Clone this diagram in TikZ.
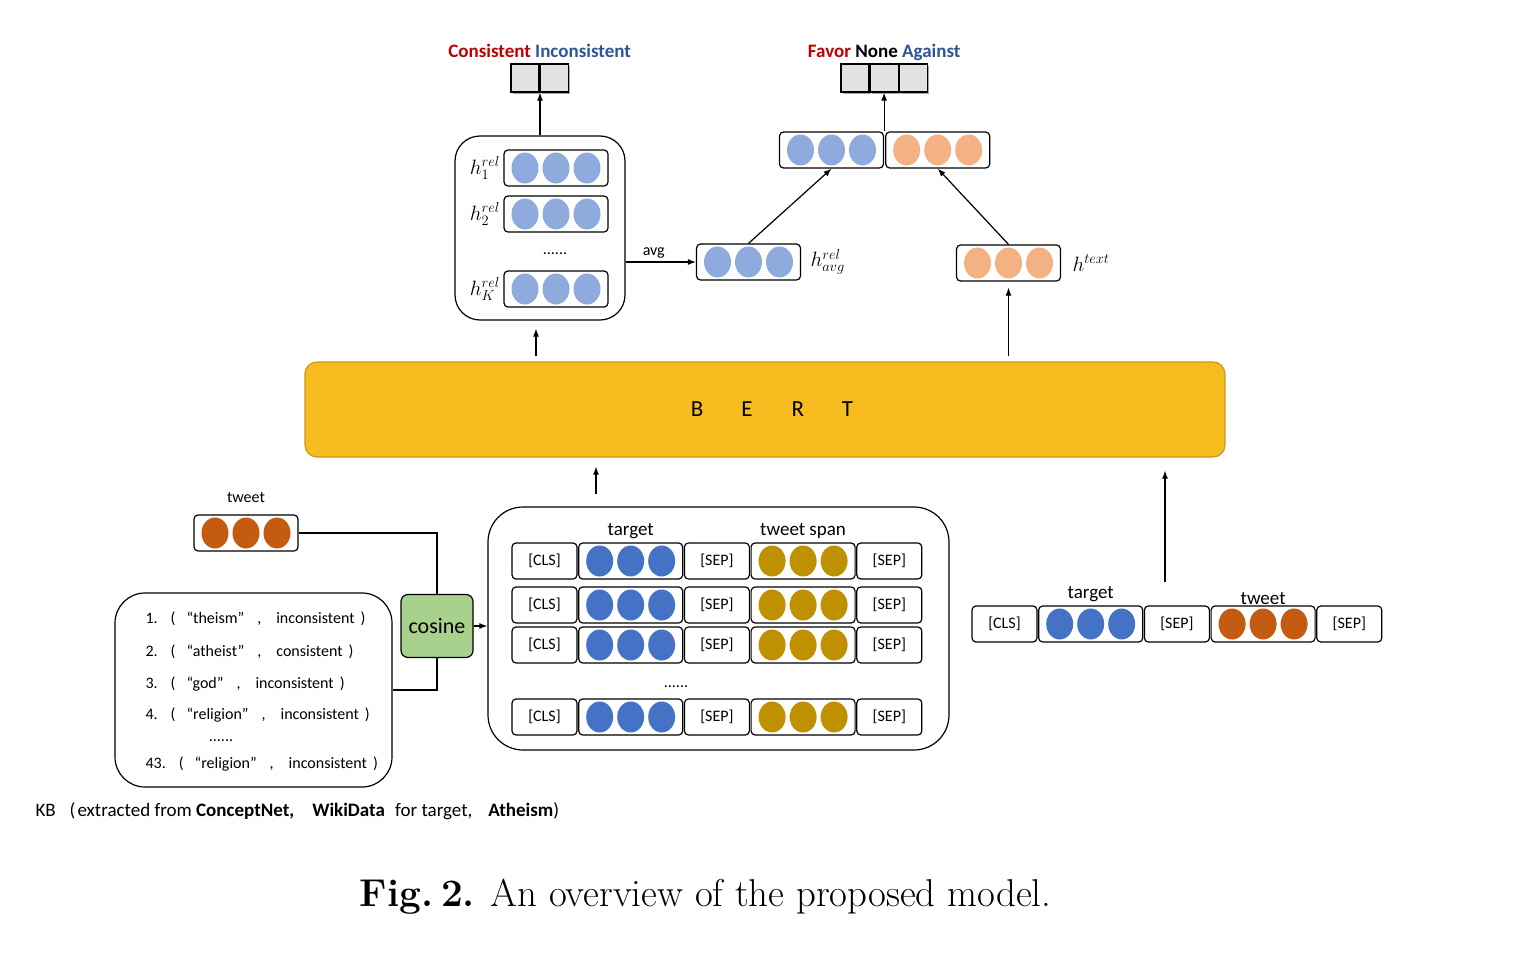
\documentclass[tikz,border=0pt]{standalone}
\usepackage{fontspec}
\newfontfamily\calib{Carlito}
\usepackage{tikz}
\usetikzlibrary{arrows.meta,positioning,calc,shapes.geometric,shadows}

\definecolor{lightblue}{HTML}{8FAADC}
\definecolor{peach}{HTML}{F4B183}
\definecolor{darkblue}{HTML}{4472C4}
\definecolor{gold}{HTML}{BF9000}
\definecolor{burnt}{HTML}{C55A11}
\definecolor{bertfill}{HTML}{F7BC1F}
\definecolor{bertline}{HTML}{C79A12}
\definecolor{cosgreen}{HTML}{A9D18E}
\definecolor{cellgrey}{HTML}{E2E2E2}
\definecolor{labred}{HTML}{C00000}
\definecolor{labblue}{HTML}{2F5597}

\newcommand{\fsz}[1]{\fontsize{#1}{#1}\selectfont}
% one knowledge line: number, word, relation
\newcommand{\kbline}[3]{#1\hspace{13pt}(\hspace{11pt}“#2”\hspace{13pt},\hspace{15pt}#3\hspace{6pt})}

\tikzset{
  vecbox/.style={
    draw,
    rounded corners=4pt,
    line width=1.2pt,
    minimum width=104pt,
    minimum height=36pt,
    inner sep=0pt
  },
  tokbox/.style={vecbox, minimum width=65pt, font=\calib\fsz{16}},
  dot/.style={ellipse, inner sep=0pt, minimum width=27pt, minimum height=31pt},
  outcell/.style={draw, line width=1.2pt, fill=cellgrey, minimum width=28pt, minimum height=28pt, inner sep=0pt,
    drop shadow={shadow xshift=2pt, shadow yshift=-2pt, fill=black, opacity=0.35}},
  groupbox/.style={draw, line width=1.2pt, inner sep=0pt},
  outlabel/.style={font=\calib\bfseries\fsz{19}, inner sep=0pt},
  veclabel/.style={font=\fsz{22}},
  flow/.style={-{Latex[length=8pt,width=6pt]}, line width=1.2pt},
  link/.style={line width=1.2pt}
}

% a vector of three dots: name, placement, colour
\newcommand{\vecrow}[3]{%
  \node[vecbox, #2] (#1) {};
  \foreach \k/\dx in {1/-31,2/0,3/31}
    \node[dot, fill=#3] (#1-\k) at ($(#1.center)+(\dx,0)$) {};
}

\begin{document}
\begin{tikzpicture}[
  x=1pt, y=-1pt,
  every node/.style={font=\calib\fsz{16}}
]
\useasboundingbox (0,0) rectangle (1517,958);

% relation branch
\node[groupbox, rounded corners=25pt, minimum width=170pt, minimum height=184pt] (relbox) at (540,228) {};
\vecrow{rel1}{at={(556,168)}}{lightblue}
\vecrow{rel2}{at={(556,214)}}{lightblue}
\vecrow{relK}{at={(556,289)}}{lightblue}
\node[veclabel, left=0pt of rel1] (hrel1) {$h^{rel}_1$};
\node[veclabel, left=0pt of rel2] (hrel2) {$h^{rel}_2$};
\node[veclabel, left=0pt of relK] (hrelK) {$h^{rel}_K$};
\node (reldots) at (555,254) {......};

\node[outcell] (cc1) at (525,78) {};
\node[outcell, right=0pt of cc1] (cc2) {};
\node[outlabel, anchor=base] (cclab) at ($(cc1.north east)+(0,-6)$) {\textcolor{labred}{Consistent} \textcolor{labblue}{Inconsistent}};
\draw[flow] (relbox.north) -- (relbox.north |- cc1.south);

\vecrow{avgvec}{at={(748.5,262)}}{lightblue}
\node[veclabel, right=6pt of avgvec] (havg) {$h^{rel}_{avg}$};
\draw[flow] (relbox.east |- avgvec.west) -- node[above, pos=0.4] (avglab) {avg} (avgvec.west);

% text branch
\vecrow{textvec}{at={(1008.5,263)}}{peach}
\node[veclabel, right=8pt of textvec] (htext) {$h^{text}$};

\vecrow{catL}{at={(831.5,150)}}{lightblue}
\vecrow{catR}{right=1pt of catL}{peach}
\draw[flow] (avgvec.north) -- (catL.south);
\draw[flow] (textvec.north) -- (catR.south);

\node[outcell] (sc1) at (855,78) {};
\node[outcell, right=0pt of sc1] (sc2) {};
\node[outcell, right=0pt of sc2] (sc3) {};
\node[outlabel, anchor=base] (sclab) at ($(sc2.north)+(0,-6)$) {\textcolor{labred}{Favor} None \textcolor{labblue}{Against}};
\draw[flow] (catL.north east) -- (catL.north east |- sc2.south);

% encoder
\node[draw=bertline, fill=bertfill, line width=1.2pt, rounded corners=12pt, minimum width=920pt, minimum height=95pt,
  font=\calib\fsz{23}] (bert) at (765,409.5) {\hspace{14pt}B\hspace{38pt}E\hspace{39pt}R\hspace{38pt}T};
\draw[flow] ($(bert.north -| relbox.south)+(-4,-5)$) -- ($(relbox.south)+(-4,8)$);
\draw[flow] ($(bert.north -| textvec.south)+(0,-5)$) -- ($(textvec.south)+(0,6)$);

% pair inputs
\node[groupbox, rounded corners=35pt, minimum width=461pt, minimum height=243pt] (midbox) at (718.5,628.5) {};
\foreach \row/\ypos in {1/561,2/605,3/645,4/717} {
  \node[tokbox, at={(544.5,\ypos)}] (cls\row) {[CLS]};
  \vecrow{tgt\row}{right=0.5pt of cls\row}{darkblue}
  \node[tokbox, right=0.5pt of tgt\row] (sepa\row) {[SEP]};
  \vecrow{span\row}{right=0.5pt of sepa\row}{gold}
  \node[tokbox, right=0.5pt of span\row] (sepb\row) {[SEP]};
}
\node[font=\calib\fsz{19}, above=0pt of tgt1] (tgtlab) {target};
\node[font=\calib\fsz{19}, above=0pt of span1] (spanlab) {tweet span};
\node (middots) at (676,687) {......};
\coordinate (pairup) at (596,494);
\draw[flow] (pairup) -- ($(pairup |- bert.south)+(0,9)$);

% tweet and knowledge base
\vecrow{tweetvec}{at={(246,533)}}{burnt}
\node[above=8pt of tweetvec] (tweetlab) {tweet};
\node[draw, line width=1.2pt, fill=cosgreen, rounded corners=7pt, minimum width=72pt, minimum height=63pt, inner sep=0pt,
  font=\calib\fsz{22}] (cosine) at (437,626) {cosine};
\node[groupbox, rounded corners=30pt, minimum width=277pt, minimum height=194pt] (kb) at (253.5,690) {};
\node[anchor=west] (kb1) at (142,619) {\kbline{1.}{theism}{inconsistent}};
\node[anchor=west] (kb2) at (142,652) {\kbline{2.}{atheist}{consistent}};
\node[anchor=west] (kb3) at (142,684) {\kbline{3.}{god}{inconsistent}};
\node[anchor=west] (kb4) at (142,715) {\kbline{4.}{religion}{inconsistent}};
\node (kbdots) at (221,741) {......};
\node[anchor=west] (kb43) at (142,764) {\kbline{43.}{religion}{inconsistent}};
\node[anchor=west, font=\calib\fsz{19}] (kbcap) at (32,811) {KB\hspace{14pt}(\hspace{2pt}extracted from \textbf{ConceptNet,}\hspace{18pt}\textbf{WikiData}\hspace{6pt} for target,\hspace{16pt}\textbf{Atheism})};

\draw[link] (tweetvec.east) -| (cosine.north);
\draw[link] (cosine.south) |- (kb.east);
\draw[flow] (cosine.east) -- (cosine.east -| midbox.west);

% single input
\node[tokbox] (rcls) at (1004.5,624) {[CLS]};
\vecrow{rtgt}{right=0.5pt of rcls}{darkblue}
\node[tokbox, right=0.5pt of rtgt] (rsepa) {[SEP]};
\vecrow{rtweet}{right=0.5pt of rsepa}{burnt}
\node[tokbox, right=0.5pt of rtweet] (rsepb) {[SEP]};
\node[font=\calib\fsz{19}, above=0pt of rtgt] (rtgtlab) {target};
\node[font=\calib\fsz{19}, above=-3pt of rtweet] (rtweetlab) {tweet};
\coordinate (textup) at (1165,582);
\draw[flow] (textup) -- ($(textup |- bert.south)+(0,13)$);

% caption
\node[font={\rmfamily\fsz{38.8}}] (caption) at (705.5,897) {\textbf{Fig.\hspace{0.2em}2.}\hspace{0.4em}An overview of the proposed model.};
\end{tikzpicture}
\end{document}
